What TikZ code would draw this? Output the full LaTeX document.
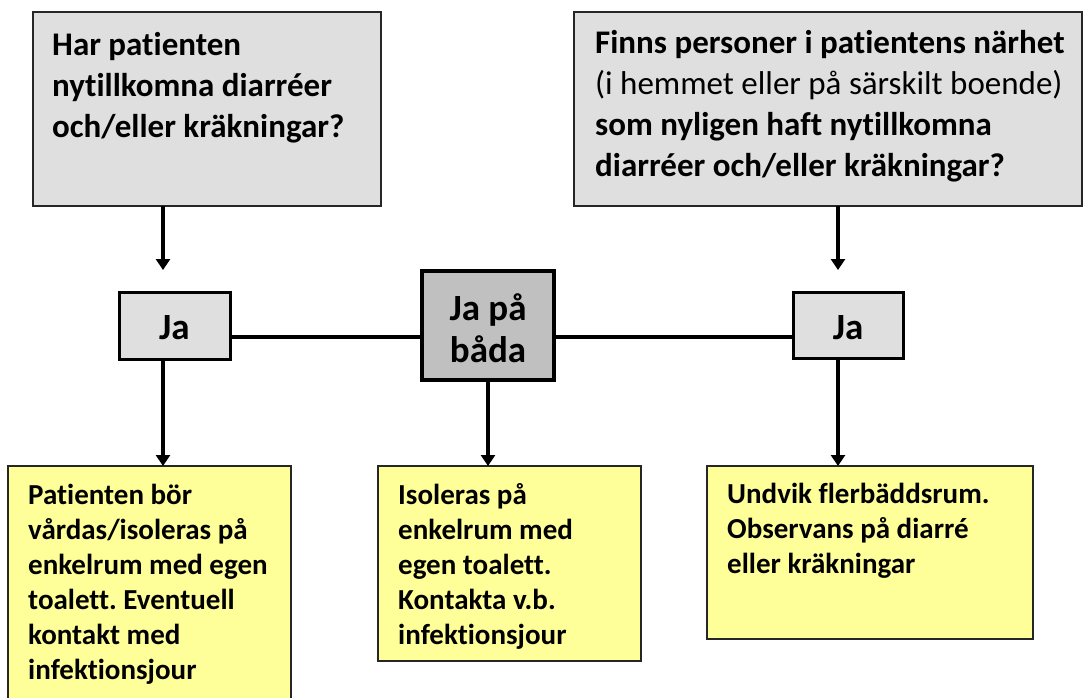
\documentclass[tikz,border=0pt]{standalone}
\usepackage{fontspec}
\setmainfont{Carlito}[Ligatures=CommonOff]
\usetikzlibrary{arrows.meta}
\definecolor{qgray}{HTML}{DFDFDF}
\definecolor{bgray}{HTML}{C0C0C0}
\definecolor{ylw}{HTML}{FFFF99}
\frenchspacing
\begin{document}
\begin{tikzpicture}[x=1pt,y=-1pt,
  qbox/.style={draw=black!85,line width=1.6pt,fill=qgray},
  jabox/.style={draw=black,line width=3pt,fill=qgray},
  bothbox/.style={draw=black,line width=3.5pt,fill=bgray},
  abox/.style={draw=black!85,line width=1.6pt,fill=ylw},
  qtext/.style={anchor=north west,inner sep=0pt,align=left,font=\fontsize{33}{41}\selectfont\bfseries},
  atext/.style={anchor=north west,inner sep=0pt,align=left,font=\fontsize{29}{35}\selectfont\bfseries},
  jtext/.style={inner sep=0pt,align=center,font=\fontsize{37}{42}\selectfont\bfseries},
  conn/.style={line width=3.5pt},
  arr/.style={line width=3.5pt,-{Triangle[width=14pt,length=11pt]}}]
\useasboundingbox (0,0) rectangle (1083,697);
% question boxes
\draw[qbox] (33,12) rectangle (381,206);
\coordinate (q1) at (163,206);
\draw[qbox] (574,12) rectangle (1082,206);
\coordinate (q2) at (838,206);
\node[qtext] (q1t) at (52,32) {Har patienten\\nytillkomna diarréer\\och/eller kräkningar?};
\node[qtext] (q2t) at (595,30) {Finns personer i patientens närhet\\{\mdseries(i hemmet eller på särskilt boende)}\\som nyligen haft nytillkomna\\diarréer och/eller kräkningar?};
% answer boxes
\node[jabox,minimum width=111pt,minimum height=67pt] (ja1) at (174.5,325.5) {};
\node[jtext] (ja1t) at (174.5,328) {Ja};
\node[jabox,minimum width=110pt,minimum height=66pt] (ja2) at (848,325) {};
\node[jtext] (ja2t) at (848,328) {Ja};
\node[bothbox,minimum width=132pt,minimum height=109pt] (both) at (488,325.5) {};
\node[jtext] (botht) at (488,328) {Ja på\\båda};
% connectors
\coordinate (a1) at (163,270);
\coordinate (a2) at (838,270);
\draw[arr] (q1) -- (a1);
\draw[arr] (q2) -- (a2);
\draw[conn] (ja1.east |- 0,337) -- (both.west |- 0,337);
\draw[conn] (both.east |- 0,337) -- (ja2.west |- 0,337);
% action boxes
\draw[abox] (8,466) rectangle (291,720);
\draw[abox] (378,466) rectangle (641,661);
\draw[abox] (707,466) rectangle (1033,639);
\coordinate (b1) at (163,466);
\coordinate (b2) at (488,466);
\coordinate (b3) at (838,466);
\draw[arr] (163,359) -- (b1);
\draw[arr] (both.south) -- (b2);
\draw[arr] (ja2.south -| 838,0) -- (b3);
\node[atext] (t1) at (28,484) {Patienten bör\\vårdas/isoleras på\\enkelrum med egen\\toalett. Eventuell\\kontakt med\\infektionsjour};
\node[atext] (t2) at (398,483) {Isoleras på\\enkelrum med\\egen toalett.\\Kontakta v.b.\\infektionsjour};
\node[atext] (t3) at (727,483) {Undvik flerbäddsrum.\\Observans på diarré\\eller kräkningar};
\end{tikzpicture}
\end{document}
